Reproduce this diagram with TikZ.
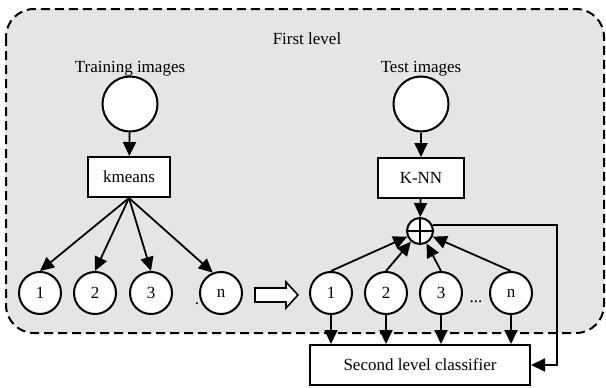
\documentclass[tikz,border=0pt]{standalone}
\usepackage{fontspec}
\setmainfont{Liberation Serif}
\usetikzlibrary{arrows.meta}
\begin{document}
\begin{tikzpicture}[x=1pt,y=-1pt,
  font=\fontsize{17}{20}\selectfont,
  circ/.style={circle, draw, fill=white, line width=2pt, minimum size=42pt, inner sep=0pt},
  bigc/.style={circle, draw, fill=white, line width=2pt, minimum size=55pt, inner sep=0pt},
  boxnode/.style={draw, fill=white, line width=2pt, minimum width=82pt, minimum height=40pt, inner sep=0pt},
  arr/.style={-{Triangle[length=14pt,width=13pt]}, line width=1.8pt},
]
\useasboundingbox (0,0) rectangle (606,388);
\path[fill=black!10, draw, dash pattern=on 9pt off 5pt, line width=2pt, rounded corners=28pt] (6,9) rectangle (604,333);

\node[anchor=base] (fl) at (307,45) {First level};
\node[anchor=base] (tr) at (130,72) {Training images};
\node[anchor=base] (te) at (421,72) {Test images};
\node[bigc] (ci1) at (130,104) {};
\node[bigc] (ci2) at (421,104) {};
\node[boxnode] (km) at (129,177) {kmeans};
\node[boxnode, minimum width=86pt] (kn) at (421,178) {K-NN};
\node[circle, draw, fill=white, line width=2pt, minimum size=26pt, inner sep=0pt] (op) at (420,231) {};
\draw[line width=1.8pt] (op.north) -- (op.south) (op.west) -- (op.east);

\node[circ] (l1) at (40,293) {1};
\node[circ] (l2) at (95,293) {2};
\node[circ] (l3) at (151,293) {3};
\node[circ] (ln) at (221,293) {n};
\node[anchor=base, inner sep=0pt] (dot) at (197,304) {.};

\node[circ] (r1) at (331,293) {1};
\node[circ] (r2) at (386,293) {2};
\node[circ] (r3) at (441,293) {3};
\node[circ] (rn) at (511,293) {n};
\node[anchor=base, inner sep=0pt] (dots) at (476,302) {...};

\node[boxnode, minimum width=220pt] (sl) at (420,365) {Second level classifier};

\draw[fill=white, line width=1.6pt] (255,288) -- (286,288) -- (286,282) -- (298,295) -- (286,308) -- (286,302) -- (255,302) -- cycle;

\draw[arr] (ci1) -- (km);
\draw[arr] (ci2) -- (kn);
\draw[arr] (kn) -- (op);

\draw[arr] (km.south) -- (l1.north);
\draw[arr] (km.south) -- (l2.north);
\draw[arr] (km.south) -- (l3.north);
\draw[arr] (km.south) -- (ln.112);

\draw[arr] (r1.north) -- (op);
\draw[arr] (r2.north) -- (op);
\draw[arr] (r3.north) -- (op);
\draw[arr] (rn.north) -- (op);

\draw[arr] (r1.south) -- (r1.south |- sl.north);
\draw[arr] (r2.south) -- (r2.south |- sl.north);
\draw[arr] (r3.south) -- (r3.south |- sl.north);
\draw[arr] (rn.south) -- (rn.south |- sl.north);

\coordinate (fb) at (557,300);
\draw[arr] (op.25) -| (fb) |- (sl.east);
\end{tikzpicture}
\end{document}
